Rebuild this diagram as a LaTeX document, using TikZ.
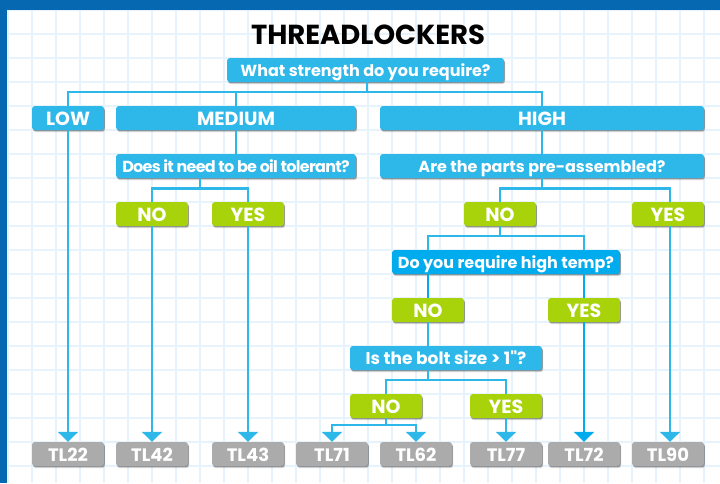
\documentclass[tikz,border=0pt]{standalone}
\usepackage{fontspec}
\setmainfont{Poppins}[BoldFont={Poppins Bold}]
\newfontfamily\plainquote[BoldFont={Poppins Bold}]{Poppins Bold}
\newfontfamily\tightface[LetterSpace=-4.5,BoldFont={Poppins Bold}]{Poppins Bold}
\usetikzlibrary{arrows.meta,shadows}
\definecolor{bandblue}{HTML}{0668B0}
\definecolor{gridblue}{HTML}{E6F3FC}
\definecolor{skyb}{HTML}{2EB8EA}
\definecolor{deepb}{HTML}{00ABEE}
\definecolor{limeg}{HTML}{A8D30A}
\definecolor{greyb}{HTML}{ABABAB}
\tikzset{
  basebox/.style={rounded corners=3pt,minimum height=24pt,inner sep=0pt,text=white,
    text height=13pt,text depth=0pt,
    font=\fontsize{16}{18}\selectfont\bfseries,
    drop shadow={shadow xshift=1.2pt,shadow yshift=-2.2pt,opacity=.16,fill=black},
    drop shadow={shadow xshift=.8pt,shadow yshift=-1.2pt,opacity=.28,fill=black}},
  capslabel/.style={text height=14pt,font=\fontsize{19}{20}\selectfont\bfseries},
  qbox/.style={basebox,fill=skyb},
  qdeep/.style={basebox,fill=deepb},
  catbox/.style={qbox,capslabel},
  ansbox/.style={basebox,capslabel,fill=limeg,minimum width=72pt},
  tlbox/.style={basebox,fill=greyb,minimum width=72pt,text height=14pt,font=\fontsize{18}{20}\selectfont\bfseries},
  link/.style={draw=skyb,line width=2.3pt},
  linkdeep/.style={draw=deepb,line width=2.3pt},
  tip/.style={-{Triangle[length=10pt,width=20pt]}}
}
\begin{document}
\begin{tikzpicture}[x=1pt,y=-1pt]
\useasboundingbox (0,0) rectangle (720,483);
\fill[white] (0,0) rectangle (720,483);
% grid
\foreach \k in {0,...,29} \draw[gridblue,line width=1.2pt] ({8+24*\k},10) -- ({8+24*\k},483);
\foreach \k in {0,...,19} \draw[gridblue,line width=1.2pt] (7,{10+24*\k}) -- (720,{10+24*\k});
% frame
\fill[bandblue] (0,0) rectangle (720,10);
\fill[bandblue] (0,0) rectangle (7,483);
% title
\node (title) at (368,35) {\fontsize{27.5}{30}\selectfont\bfseries THREADLOCKERS};
% junction coordinates
\coordinate (j1) at (367,92);
\coordinate (j2) at (200,188.5);
\coordinate (j3) at (542,188.5);
\coordinate (j4) at (500,236);
\coordinate (j5) at (428,380);
\coordinate (j6) at (386,425);
\coordinate (c90) at (670,300);
% boxes
\node[qbox,minimum width=277pt] (q1) at (365.5,70) {What strength do you require?};
\node[catbox,minimum width=72pt] (low) at (68,118) {LOW};
\node[catbox,minimum width=240pt] (med) at (236,118) {MEDIUM};
\node[catbox,minimum width=324pt] (high) at (542,118) {HIGH};
\node[qbox,minimum width=240pt] (q2) at (236,166) {\tightface Does it need to be oil tolerant?};
\node[qbox,minimum width=324pt] (q3) at (542,166) {Are the parts pre-assembled?};
\node[ansbox] (n2) at (152,214) {NO};
\node[ansbox] (y2) at (248,214) {YES};
\node[ansbox] (n3) at (500,214) {NO};
\node[ansbox] (y3) at (668,214) {YES};
\node[qdeep,minimum width=228pt] (q4) at (506,262) {Do you require high temp?};
\node[ansbox] (n4) at (428,310) {NO};
\node[ansbox] (y4) at (584,310) {YES};
\node[qbox,minimum width=192pt] (q5) at (446,358) {\fontsize{17}{18}\selectfont\plainquote Is the bolt size > 1"?};
\node[ansbox] (n5) at (386,406) {NO};
\node[ansbox] (y5) at (506,406) {YES};
\node[tlbox] (t22) at (68,454) {TL22};
\node[tlbox] (t42) at (152,454) {TL42};
\node[tlbox] (t43) at (248,454) {TL43};
\node[tlbox] (t71) at (332,454) {TL71};
\node[tlbox] (t62) at (416,454) {TL62};
\node[tlbox] (t77) at (506,454) {TL77};
\node[tlbox] (t72) at (584,454) {TL72};
\node[tlbox] (t90) at (668,454) {TL90};
% connectors
\draw[link] (q1.south -| j1) -- (j1);
\draw[link] (low.north) |- (j1);
\draw[link] (med.north) -- (med.north |- j1);
\draw[link] (high.north) |- (j1);
\draw[link,tip] (low.south) -- (t22.north);
\draw[link] (med.south) -- (q2.north);
\draw[link] (q2.south -| j2) -- (j2);
\draw[link] (n2.north) |- (j2);
\draw[link] (y2.north) |- (j2);
\draw[link,tip] (n2.south) -- (t42.north);
\draw[link,tip] (y2.south) -- (t43.north);
\draw[link] (high.south) -- (q3.north);
\draw[link] (q3.south) -- (j3);
\draw[link] (n3.north) |- (j3);
\draw[link] (y3.north -| c90) |- (j3);
\draw[link,tip] (y3.south -| c90) -- (t90.north -| c90);
\draw[link] (n3.south) -- (j4);
\draw[link] (q4.north -| n4) |- (j4);
\draw[link] (q4.north -| y4) |- (j4);
\draw[linkdeep] (q4.south -| n4) -- (n4.north);
\draw[linkdeep] (q4.south -| y4) -- (y4.north);
\draw[link] (n4.south) -- (q5.north -| n4);
\draw[link] (q5.south -| j5) -- (j5);
\draw[link] (n5.north) |- (j5);
\draw[link] (y5.north) |- (j5);
\draw[linkdeep,tip] (y4.south) -- (t72.north);
\draw[link,tip] (y5.south) -- (t77.north);
\draw[link] (n5.south) -- (j6);
\draw[link,tip] (j6) -| (t71.north);
\draw[link,tip] (j6) -| (t62.north);
\end{tikzpicture}
\end{document}
